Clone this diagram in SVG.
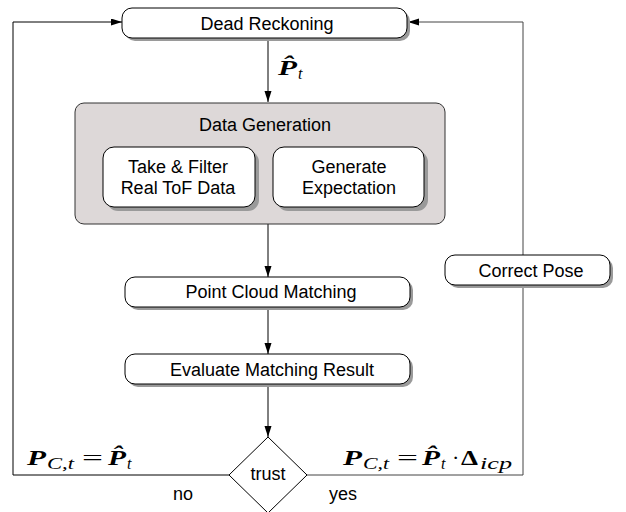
<svg xmlns="http://www.w3.org/2000/svg" width="626" height="512" viewBox="0 0 626 512">
<defs>
<marker id="arr" markerUnits="userSpaceOnUse" markerWidth="12" markerHeight="8" refX="11" refY="3.5" orient="auto">
<path d="M0,0 L11,3.5 L0,7 z" fill="#000"/>
</marker>
</defs>
<style>
.sh{fill:#9a9a9a;stroke:none}
.bx{fill:#fff;stroke:#000;stroke-width:1}
.lbl{font-family:"Liberation Sans",Arial,sans-serif;font-size:18px;fill:#000;text-anchor:middle}
.ln{fill:none;stroke:#000;stroke-width:1}
.m{font-family:"Liberation Serif","Times New Roman",serif;fill:#000}
.bi{font-weight:bold;font-style:italic;font-size:22px}
.it{font-style:italic;font-size:16px}
.rm{font-size:22px}
</style>
<rect width="626" height="512" fill="#fff"/>
<g id="connectors">
<path class="ln" d="M229,475 H13 V22 H122" marker-end="url(#arr)"/>
<path class="ln" d="M307,475 H523 V22 H408" marker-end="url(#arr)" style="stroke:#444"/>
<path class="ln" d="M268,38 V102" marker-end="url(#arr)"/>
<path class="ln" d="M268,224 V277" marker-end="url(#arr)"/>
<path class="ln" d="M268,307 V354" marker-end="url(#arr)"/>
<path class="ln" d="M268,384 V437" marker-end="url(#arr)"/>
</g>
<g id="dead-reckoning">
<rect class="sh" x="125" y="11" width="285" height="30" rx="10"/>
<rect class="bx" x="122" y="8" width="285" height="30" rx="10"/>
<text class="lbl" x="267" y="30">Dead Reckoning</text>
</g>
<g id="label-p-hat">
<text class="m" y="75"><tspan class="bi" x="278" textLength="19" lengthAdjust="spacingAndGlyphs">P̂</tspan><tspan class="it" x="298" y="79">t</tspan></text>
</g>
<g id="data-generation">
<rect x="75" y="103" width="370" height="121" rx="9" fill="#ddd8d8" stroke="#333" stroke-width="1"/>
<text class="lbl" x="265" y="131">Data Generation</text>
</g>
<g id="take-filter">
<rect class="sh" x="107" y="151" width="152" height="60" rx="11"/>
<rect class="bx" x="103" y="147" width="152" height="60" rx="11"/>
<text class="lbl" x="178" y="173">Take &amp; Filter</text>
<text class="lbl" x="178" y="194">Real ToF Data</text>
</g>
<g id="generate-expectation">
<rect class="sh" x="277" y="151" width="151" height="60" rx="11"/>
<rect class="bx" x="273" y="147" width="151" height="60" rx="11"/>
<text class="lbl" x="349" y="173">Generate</text>
<text class="lbl" x="349" y="194">Expectation</text>
</g>
<g id="point-cloud-matching">
<rect class="sh" x="128" y="280" width="285" height="30" rx="10"/>
<rect class="bx" x="125" y="277" width="285" height="30" rx="10"/>
<text class="lbl" x="271" y="298">Point Cloud Matching</text>
</g>
<g id="evaluate-matching-result">
<rect class="sh" x="128" y="357" width="285" height="30" rx="10"/>
<rect class="bx" x="125" y="354" width="285" height="30" rx="10"/>
<text class="lbl" x="272" y="376">Evaluate Matching Result</text>
</g>
<g id="correct-pose">
<rect class="sh" x="448" y="258" width="165" height="30" rx="10"/>
<rect class="bx" x="445" y="255" width="165" height="30" rx="10"/>
<text class="lbl" x="531" y="277">Correct Pose</text>
</g>
<g id="trust">
<path d="M268,437 L307,475 L268,513 L229,475 z" fill="#fff" stroke="#000" stroke-width="1"/>
<text class="lbl" x="268" y="480">trust</text>
</g>
<g id="labels">
<text class="lbl" x="183" y="500">no</text>
<text class="lbl" x="343" y="500">yes</text>
<text class="m" y="465"><tspan class="bi" x="27" textLength="19" lengthAdjust="spacingAndGlyphs">P</tspan><tspan class="it" x="47" y="469" textLength="27" lengthAdjust="spacingAndGlyphs">C,t</tspan><tspan class="rm" x="82" y="465" textLength="21" lengthAdjust="spacingAndGlyphs">=</tspan><tspan class="bi" x="108" textLength="18" lengthAdjust="spacingAndGlyphs">P̂</tspan><tspan class="it" x="127" y="469">t</tspan></text>
<text class="m" y="465"><tspan class="bi" x="343" textLength="19" lengthAdjust="spacingAndGlyphs">P</tspan><tspan class="it" x="363" y="469" textLength="26" lengthAdjust="spacingAndGlyphs">C,t</tspan><tspan class="rm" x="397" y="465" textLength="21" lengthAdjust="spacingAndGlyphs">=</tspan><tspan class="bi" x="422" textLength="18" lengthAdjust="spacingAndGlyphs">P̂</tspan><tspan class="it" x="441" y="469">t</tspan><tspan class="rm" x="452" y="465">·</tspan><tspan class="rm" x="461" font-weight="bold" textLength="17" lengthAdjust="spacingAndGlyphs">Δ</tspan><tspan class="it" x="480" y="469" textLength="32" lengthAdjust="spacingAndGlyphs">icp</tspan></text>
</g>
</svg>
